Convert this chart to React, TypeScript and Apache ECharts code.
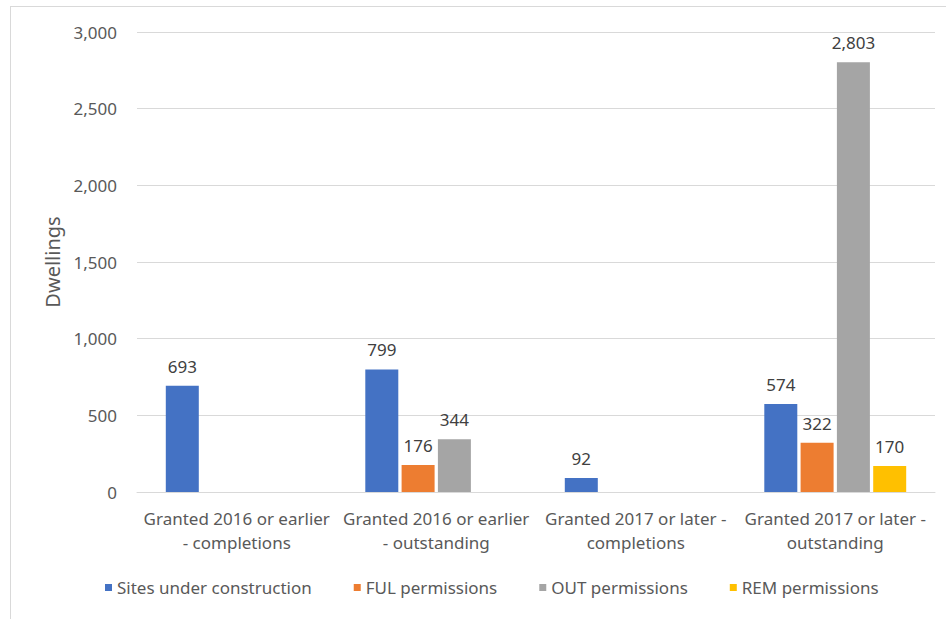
import React, { useEffect, useRef } from "react";
import * as echarts from "echarts";

const categories = [
  "Granted 2016 or earlier\n- completions",
  "Granted 2016 or earlier\n- outstanding",
  "Granted 2017 or later -\ncompletions",
  "Granted 2017 or later -\noutstanding",
];
const sitesUnderConstruction = [693, 799, 92, 574];
const fulPermissions: (number | string)[] = ["-", 176, "-", 322];
const outPermissions: (number | string)[] = ["-", 344, "-", 2803];
const remPermissions: (number | string)[] = ["-", "-", "-", 170];
const seriesNames = ["Sites under construction", "FUL permissions", "OUT permissions", "REM permissions"];
const seriesColors = ["#4472C4", "#ED7D31", "#A5A5A5", "#FFC000"];

const FONT = "Noto Sans";

export default function App() {
  const ref = useRef<HTMLDivElement>(null);
  useEffect(() => {
    if (!ref.current) return;
    const chart = echarts.init(ref.current, undefined, { renderer: "svg" });
    const datas = [sitesUnderConstruction, fulPermissions, outPermissions, remPermissions];
    chart.setOption({
      animation: false,
      backgroundColor: "#ffffff",
      textStyle: { fontFamily: FONT },
      grid: { left: 137, right: 11, top: 32, bottom: 127, containLabel: false },
      legend: {
        left: 100,
        top: 574,
        itemWidth: 7,
        itemHeight: 7,
        itemGap: 42,
        icon: "rect",
        textStyle: { fontFamily: FONT, fontSize: 17, color: "#595959" },
        data: seriesNames,
      },
      xAxis: {
        type: "category",
        data: categories,
        axisLine: { show: true, lineStyle: { color: "#D9D9D9", width: 1 } },
        axisTick: { show: false },
        axisLabel: {
          interval: 0,
          margin: 14,
          fontFamily: FONT,
          fontSize: 17,
          color: "#595959",
          lineHeight: 24,
        },
      },
      yAxis: {
        type: "value",
        min: 0,
        max: 3000,
        interval: 500,
        name: "Dwellings",
        nameLocation: "middle",
        nameGap: 74,
        nameRotate: 90,
        nameTextStyle: { fontFamily: FONT, fontSize: 20, color: "#595959" },
        axisLine: { show: false },
        axisTick: { show: false },
        splitLine: { lineStyle: { color: "#D9D9D9", width: 1 } },
        axisLabel: {
          margin: 20,
          fontFamily: FONT,
          fontSize: 17,
          color: "#595959",
          formatter: (v: number) => v.toLocaleString("en-US"),
        },
      },
      series: seriesNames.map((name, i) => ({
        name,
        type: "bar",
        data: datas[i],
        barWidth: 33,
        barGap: "10%",
        barCategoryGap: "29%",
        itemStyle: { color: seriesColors[i] },
        label: {
          show: true,
          position: "top",
          distance: 11,
          fontFamily: FONT,
          fontSize: 17,
          color: "#404040",
          formatter: (p: any) => (typeof p.value === "number" ? p.value.toLocaleString("en-US") : ""),
        },
      })),
      graphic: [
        { type: "line", shape: { x1: 10, y1: 6.5, x2: 946, y2: 6.5 }, style: { stroke: "#D9D9D9", lineWidth: 1 } },
        { type: "line", shape: { x1: 10.5, y1: 6, x2: 10.5, y2: 619 }, style: { stroke: "#D9D9D9", lineWidth: 1 } },
      ],
    });
    return () => chart.dispose();
  }, []);
  return <div ref={ref} style={{ position: "fixed", left: 0, top: 0, width: 946, height: 619 }} />;
}
